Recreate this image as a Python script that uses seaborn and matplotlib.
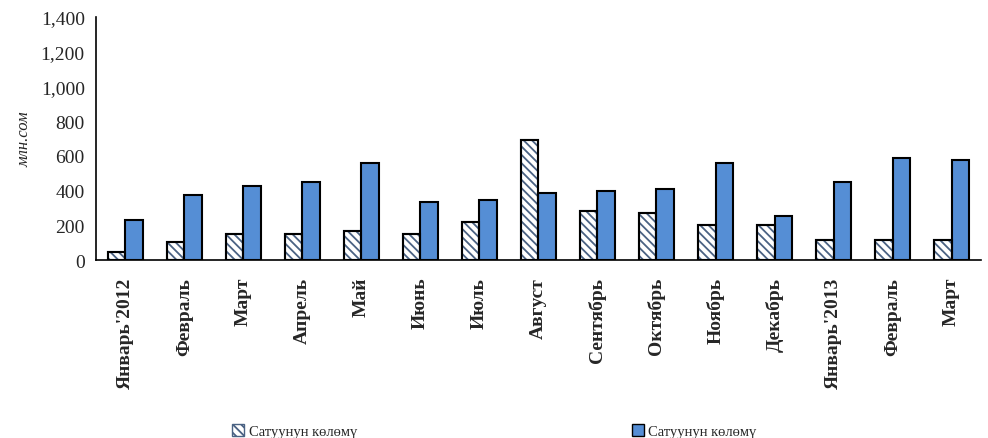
import pandas as pd
import numpy as np
import seaborn as sns
import matplotlib.pyplot as plt
from matplotlib.patches import Patch

months = ["Январь'2012", "Февраль", "Март", "Апрель", "Май", "Июнь", "Июль", "Август",
          "Сентябрь", "Октябрь", "Ноябрь", "Декабрь", "Январь'2013", "Февраль", "Март"]
sales_a = [50, 105, 150, 150, 170, 150, 220, 693, 284, 272, 202, 202, 117, 117, 117]
sales_b = [232, 378, 430, 451, 557, 336, 349, 388, 399, 411, 557, 253, 453, 589, 578]
legend_label = "Сатуунун көлөмү"

# month names repeat, so use position keys for the categorical axis
keys = [f"{i:02d}" for i in range(len(months))]
df = pd.DataFrame({
    "key": keys * 2,
    "value": sales_a + sales_b,
    "series": ["a"] * len(keys) + ["b"] * len(keys),
})

sns.set_style("white")
plt.rcParams["font.family"] = ["Liberation Serif", "DejaVu Sans"]
plt.rcParams["hatch.linewidth"] = 1.3

blue = "#558ED5"
hatch_col = "#4A6283"

fig = plt.figure(figsize=(9.88, 4.39), dpi=100)
ax = fig.add_axes([0.097, 0.405, 0.896, 0.554])

sns.barplot(data=df, x="key", y="value", hue="series", order=keys,
            palette={"a": "white", "b": blue}, saturation=1, width=0.6, gap=0,
            edgecolor="black", linewidth=1.5, legend=False, ax=ax)

for bar in ax.containers[0]:
    bar.set_hatch("\\\\\\\\")
    bar.set_edgecolor(hatch_col)
    # black outline drawn separately over the hatch colour
    ax.add_patch(plt.Rectangle(bar.get_xy(), bar.get_width(), bar.get_height(),
                               fill=False, edgecolor="black", linewidth=1.5, zorder=3))

ax.set_xlim(-0.5, len(keys) - 0.5)
ax.set_ylim(0, 1400)
ax.set_yticks(np.arange(0, 1401, 200))
ax.set_yticklabels([f"{v:,}" for v in range(0, 1401, 200)], fontsize=14)
ax.set_xticks(range(len(keys)))
ax.set_xticklabels(months, rotation=90, fontsize=14, fontweight="bold")
ax.set_xticks(np.arange(-0.5, len(keys), 1), minor=True)
ax.tick_params(axis="x", which="major", length=0, pad=12)
ax.tick_params(axis="x", which="minor", length=5, width=1.2, direction="out", color="black")
ax.tick_params(axis="y", length=5, width=1.2, direction="out", color="black", pad=3)
ax.set_xlabel("")
ax.set_ylabel("млн.сом", fontsize=12, fontstyle="italic", labelpad=6)

for s in ["top", "right"]:
    ax.spines[s].set_visible(False)
for s in ["left", "bottom"]:
    ax.spines[s].set_color("black")
    ax.spines[s].set_linewidth(1.2)

handles = [Patch(facecolor="white", edgecolor=hatch_col, hatch="\\\\\\\\"),
           Patch(facecolor=blue, edgecolor="black")]
fig.legend(handles, [legend_label, legend_label], loc="lower left",
           bbox_to_anchor=(0.222, -0.03), ncol=2, frameon=False, fontsize=10.5,
           handlelength=0.8, handleheight=0.8, handletextpad=0.3, columnspacing=18.9)

fig.savefig("out.png", dpi=100)
